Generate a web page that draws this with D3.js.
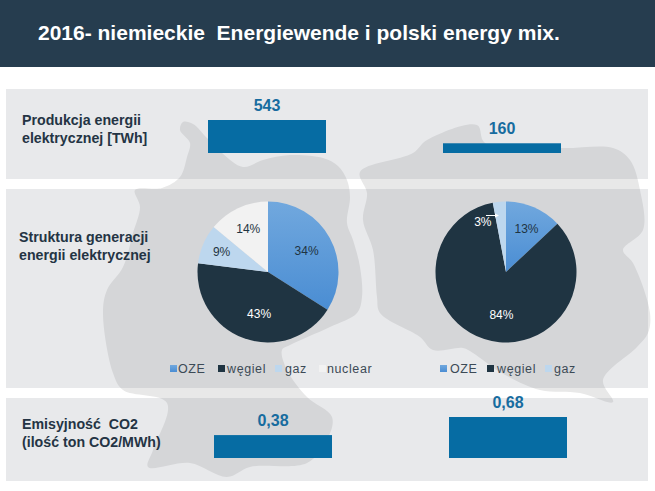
<!DOCTYPE html>
<html>
<head>
<meta charset="utf-8">
<script src="https://cdn.jsdelivr.net/npm/d3@7"></script>
<style>
  body { margin: 0; background: #fff; }
  svg { display: block; }
  text { font-family: "Liberation Sans", Arial, sans-serif; }
</style>
</head>
<body>
<div id="vis"></div>
<script>
const FRAME_WIDTH = 655;
const FRAME_HEIGHT = 491;

const TITLE = "2016- niemieckie  Energiewende i polski energy mix.";
const COUNTRIES = ["Niemcy", "Polska"];

const PRODUCTION = [543, 160];
const EMISSION = [0.38, 0.68];

const SOURCES_DE = ["OZE", "węgiel", "gaz", "nuclear"];
const SHARES_DE = [34, 43, 9, 14];
const SOURCES_PL = ["OZE", "węgiel", "gaz"];
const SHARES_PL = [13, 84, 3];

// background silhouettes
const GERMANY_OUTLINE = [[183,122],[193,124],[207,138],[222,153],[243,167],[263,160],[290,155],[323,158],[338,166],[347,180],[350,197],[347,223],[353,240],[360,267],[362,297],[357,313],[330,327],[290,345],[282,350],[287,370],[307,397],[332,417],[327,440],[307,463],[250,467],[227,477],[190,463],[148,467],[153,450],[167,403],[123,390],[113,373],[103,313],[107,290],[123,267],[133,233],[140,207],[135,190],[162,188],[180,177],[187,157],[190,143],[180,130]];
const POLAND_OUTLINE = [[360,172],[413,153],[427,140],[477,125],[485,143],[560,148],[613,148],[630,160],[640,190],[643,230],[623,250],[633,263],[650,313],[648,333],[637,347],[603,380],[613,402],[580,393],[540,390],[500,372],[473,353],[463,348],[433,350],[420,337],[380,313],[377,297],[373,250],[363,220],[367,193]];

const COLORS = {"OZE": "url(#ozeGrad)", "węgiel": "#1f3442", "gaz": "#bdd7ee", "nuclear": "#f2f2f2"};

const PANELS = [
  {y: 89, h: 90},
  {y: 189, h: 199},
  {y: 398, h: 83}
];

const svg = d3.select("#vis").append("svg")
    .attr("width", FRAME_WIDTH)
    .attr("height", FRAME_HEIGHT);

const defs = svg.append("defs");
const grad = defs.append("linearGradient")
    .attr("id", "ozeGrad")
    .attr("x1", 0).attr("y1", 0).attr("x2", 0).attr("y2", 1);
grad.append("stop").attr("offset", "0%").attr("stop-color", "#71a8de");
grad.append("stop").attr("offset", "100%").attr("stop-color", "#4a8dd3");

const clip = defs.append("clipPath").attr("id", "panelClip");
clip.selectAll("rect").data(PANELS).enter().append("rect")
    .attr("x", 6).attr("y", d => d.y).attr("width", 642).attr("height", d => d.h);

const outline = d3.line().curve(d3.curveCatmullRomClosed.alpha(0.5));

// map, pale where it shows through the gaps between panels
const maps = [GERMANY_OUTLINE, POLAND_OUTLINE];
svg.selectAll(".mapPale").data(maps).enter().append("path")
    .attr("d", d => outline(d))
    .attr("fill", "#e8e8e8");

svg.selectAll(".panel").data(PANELS).enter().append("rect")
    .attr("x", 6).attr("y", d => d.y)
    .attr("width", 642).attr("height", d => d.h)
    .attr("fill", "#e8e9eb");

svg.append("g").attr("clip-path", "url(#panelClip)")
  .selectAll("path").data(maps).enter().append("path")
    .attr("d", d => outline(d))
    .attr("fill", "#d5d6d8");

// header
svg.append("rect")
    .attr("width", FRAME_WIDTH).attr("height", 67)
    .attr("fill", "#263d4f");
svg.append("text")
    .attr("x", 38).attr("y", 40)
    .attr("fill", "#ffffff")
    .attr("font-size", 21)
    .attr("font-weight", "bold")
    .style("white-space", "pre")
    .text(TITLE);

// row captions
const CAPTIONS = [
  {x: 22, y: 125, lines: ["Produkcja energii", "elektrycznej [TWh]"]},
  {x: 19, y: 242, lines: ["Struktura generacji", "energii elektrycznej"]},
  {x: 22, y: 429, lines: ["Emisyjność  CO2", "(ilość ton CO2/MWh)"]}
];
CAPTIONS.forEach(c => {
  svg.append("g").selectAll("text").data(c.lines).enter().append("text")
      .attr("x", c.x)
      .attr("y", (d, i) => c.y + i * 18)
      .attr("fill", "#243444")
      .attr("font-size", 14.2)
      .attr("font-weight", "bold")
      .style("white-space", "pre")
      .text(d => d);
});

// bar rows
function drawBars(values, xRange, yRange, maxValue, format) {
  const X_SCALE = d3.scaleBand()
      .domain(COUNTRIES)
      .range(xRange)
      .paddingInner(117 / 235);
  const Y_SCALE = d3.scaleLinear()
      .domain([0, maxValue])
      .range(yRange);

  const g = svg.append("g");
  g.selectAll("rect").data(values).enter().append("rect")
      .attr("x", (d, i) => X_SCALE(COUNTRIES[i]))
      .attr("y", d => Y_SCALE(d))
      .attr("width", X_SCALE.bandwidth())
      .attr("height", d => Y_SCALE(0) - Y_SCALE(d))
      .attr("fill", "#066ca3");
  g.selectAll("text").data(values).enter().append("text")
      .attr("x", (d, i) => X_SCALE(COUNTRIES[i]) + X_SCALE.bandwidth() / 2)
      .attr("y", d => Y_SCALE(d) - 9)
      .attr("text-anchor", "middle")
      .attr("fill", "#176c9f")
      .attr("font-size", 16)
      .attr("font-weight", "bold")
      .text(d => format(d));
}

drawBars(PRODUCTION, [208, 561], [153, 120], 543, d => d);
drawBars(EMISSION, [214, 567], [458, 417], 0.68, d => String(d).replace(".", ","));

// pies
const pie = d3.pie().sort(null);
const arc = d3.arc().innerRadius(0).outerRadius(70.5);
const labelArc = d3.arc().innerRadius(44).outerRadius(44);

function drawPie(cx, cy, sources, shares, nudges, labelColors) {
  const g = svg.append("g").attr("transform", "translate(" + cx + "," + cy + ")");
  const slices = pie(shares);
  g.selectAll("path").data(slices).enter().append("path")
      .attr("d", arc)
      .attr("fill", (d, i) => COLORS[sources[i]]);
  g.selectAll("text").data(slices).enter().append("text")
      .attr("transform", (d, i) => {
        const c = labelArc.centroid(d);
        return "translate(" + (c[0] + nudges[i][0]) + "," + (c[1] + nudges[i][1]) + ")";
      })
      .attr("text-anchor", "middle")
      .attr("dy", "0.35em")
      .attr("font-size", 12)
      .attr("fill", (d, i) => labelColors[i])
      .text(d => d.data + "%");
}

drawPie(268, 272, SOURCES_DE, SHARES_DE, [[0, 0], [6, 0], [-6, -3], [-1, -3]],
    ["#1f3442", "#ffffff", "#1f3442", "#1f3442"]);
drawPie(506, 272, SOURCES_PL, SHARES_PL, [[3, -3], [9, 1], [-19, -6]],
    ["#1f3442", "#ffffff", "#ffffff"]);

// leader of the 3% label
svg.append("line")
    .attr("x1", 486).attr("y1", 215.5).attr("x2", 496).attr("y2", 215.5)
    .attr("stroke", "#ffffff").attr("stroke-width", 1);
svg.append("path")
    .attr("d", "M495,213.5L499,215.5L495,217.5Z")
    .attr("fill", "#ffffff");

// legends
function drawLegend(sources, squareXs, textXs) {
  const g = svg.append("g");
  g.selectAll("rect").data(sources).enter().append("rect")
      .attr("x", (d, i) => squareXs[i])
      .attr("y", 365)
      .attr("width", 7).attr("height", 7)
      .attr("fill", d => COLORS[d]);
  g.selectAll("text").data(sources).enter().append("text")
      .attr("x", (d, i) => textXs[i])
      .attr("y", 373)
      .attr("font-size", 12.5)
      .attr("letter-spacing", 0.6)
      .attr("fill", "#3c4a56")
      .text(d => d);
}

drawLegend(SOURCES_DE, [170, 218, 275, 319], [178, 227, 285, 327]);
drawLegend(SOURCES_PL, [440, 487, 545], [450, 497, 554]);
</script>
</body>
</html>
